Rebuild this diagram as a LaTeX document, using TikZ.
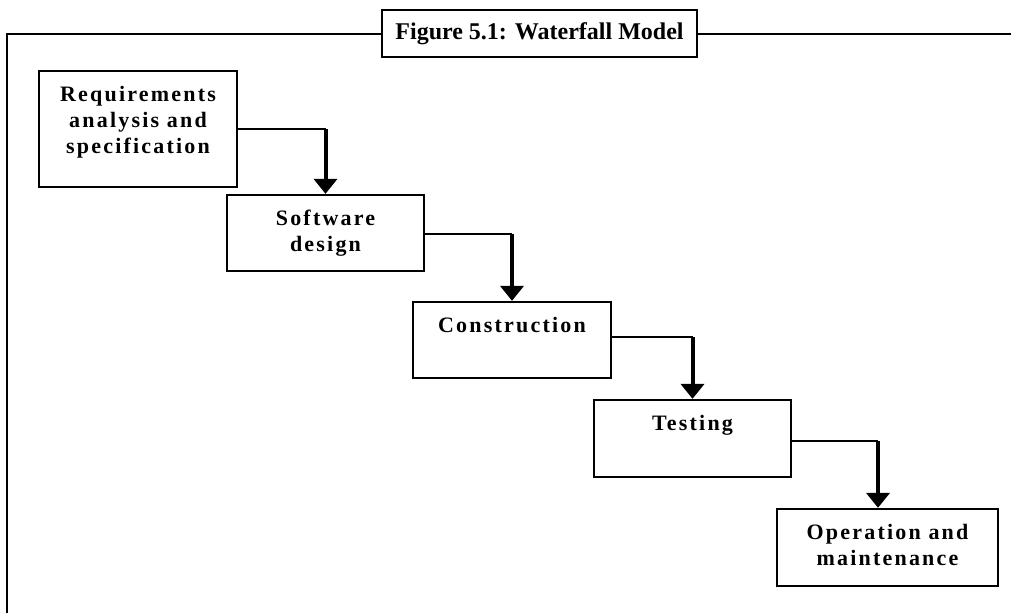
\documentclass[tikz,border=0pt]{standalone}
\usepackage{fontspec}
\setmainfont{Liberation Serif}
\newfontfamily\boxfont[LetterSpace=10]{Liberation Serif}
\usetikzlibrary{arrows.meta}
\begin{document}
\begin{tikzpicture}[x=1pt,y=-1pt,
  stage/.style={draw, line width=2.3pt, inner sep=0pt, fill=white},
  lbl/.style={font=\boxfont\bfseries\fontsize{22}{26}\selectfont, align=center, inner sep=0pt, anchor=north},
  ttlbox/.style={draw, fill=white, line width=2.3pt, minimum width=315pt, minimum height=47pt, inner sep=0pt,
    font=\bfseries\fontsize{24}{28}\selectfont},
  frame/.style={line width=2.3pt},
  flowh/.style={line width=2pt},
  flowv/.style={line width=4pt, -{Triangle[width=23pt,length=15pt]}}
]
\useasboundingbox (0,0) rectangle (1011,613);

% outer frame (open at right and bottom)
\coordinate (fl) at (7,613);
\coordinate (ft) at (7,34);
\coordinate (fr) at (1011,34);
\draw[frame] (fl) -- (ft) -- (fr);

% title
\node[ttlbox] (ttl) at (539.5,33.5) {Figure 5.1: Waterfall Model};

% stages
\node[stage, minimum width=198pt, minimum height=116pt] (req) at (138,129) {};
\node[stage, minimum width=197pt, minimum height=76pt] (sw) at (325.5,233) {};
\node[stage, minimum width=198pt, minimum height=76pt] (con) at (512,340) {};
\node[stage, minimum width=197pt, minimum height=77pt] (tst) at (692.5,438.5) {};
\node[stage, minimum width=221pt, minimum height=77pt] (ops) at (887.5,547.5) {};

% labels
\node[lbl] (reqt) at ([yshift=-16pt]req.north) {Requirements\\analysis and\\specification};
\node[lbl] (swt) at ([yshift=-16pt]sw.north) {Software\\design};
\node[lbl] (cont) at ([yshift=-16pt]con.north) {Construction};
\node[lbl] (tstt) at ([yshift=-16pt]tst.north) {Testing};
\node[lbl] (opst) at ([yshift=-16pt]ops.north) {Operation and\\maintenance};

% connectors
\coordinate (c1) at (325.5,129);
\coordinate (c2) at (512,234);
\coordinate (c3) at (692.5,337);
\coordinate (c4) at (878,441);
\draw[flowh] (req.east |- c1) -- (c1);
\draw[flowv] (c1) -- (sw.north);
\draw[flowh] (sw.east |- c2) -- (c2);
\draw[flowv] (c2) -- (con.north);
\draw[flowh] (con.east |- c3) -- (c3);
\draw[flowv] (c3) -- (tst.north);
\draw[flowh] (tst.east |- c4) -- (c4);
\draw[flowv] (c4) -- (c4 |- ops.north);
\end{tikzpicture}
\end{document}
